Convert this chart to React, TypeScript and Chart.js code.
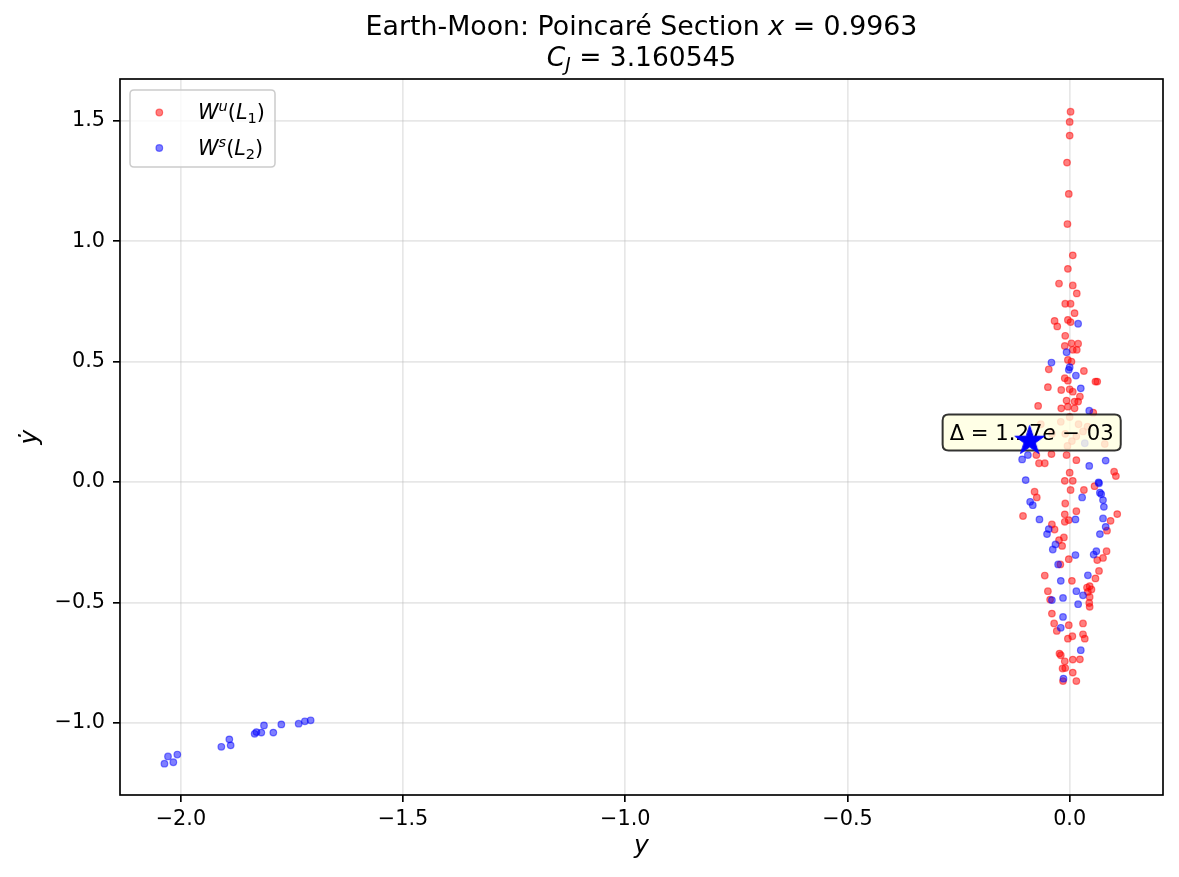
import React, { useEffect, useRef } from "react";
import { Chart, registerables } from "chart.js";

Chart.register(...registerables);

// ---------- data ----------
const X_TICKS = [-2.0, -1.5, -1.0, -0.5, 0.0];
const Y_TICKS = [-1.0, -0.5, 0.0, 0.5, 1.0, 1.5];
const X_MIN = -2.137;
const X_MAX = 0.210;
const Y_MIN = -1.299;
const Y_MAX = 1.673;

// W^u(L1) crossings (y, ydot)
const UNSTABLE_L1: [number, number][] = [
  [0.002, 1.537], [0.0, 1.495], [0.0, 1.438], [-0.006, 1.326], [-0.002, 1.196],
  [-0.005, 1.071], [0.007, 0.941], [-0.004, 0.885], [-0.024, 0.824], [0.007, 0.816],
  [0.016, 0.783], [-0.010, 0.740], [0.002, 0.740], [0.011, 0.701], [-0.034, 0.669],
  [-0.028, 0.646], [-0.004, 0.673], [0.002, 0.664], [-0.010, 0.607], [-0.011, 0.565],
  [0.004, 0.576], [0.019, 0.574], [0.007, 0.549], [0.016, 0.549], [-0.004, 0.507],
  [0.004, 0.500], [-0.047, 0.468], [0.032, 0.461], [-0.011, 0.431], [-0.004, 0.421],
  [0.062, 0.417], [0.058, 0.417], [-0.049, 0.394], [-0.019, 0.382], [0.0, 0.385],
  [0.007, 0.375], [0.023, 0.355], [-0.007, 0.338], [0.011, 0.334], [0.019, 0.334],
  [-0.071, 0.316], [-0.019, 0.306], [-0.004, 0.313], [0.011, 0.306], [0.053, 0.288],
  [-0.065, 0.240], [-0.020, 0.250], [0.0, 0.270], [0.020, 0.240], [0.040, 0.230],
  [-0.010, 0.200], [0.015, 0.190], [0.030, 0.210], [-0.040, 0.200], [0.079, 0.158],
  [0.005, 0.170], [-0.005, 0.150], [-0.075, 0.112], [-0.069, 0.078], [-0.056, 0.078],
  [-0.041, 0.116], [0.015, 0.091], [-0.007, 0.112], [0.100, 0.043], [0.104, 0.025],
  [0.0, 0.039], [-0.011, 0.005], [0.007, 0.005], [0.056, -0.017], [-0.079, -0.040],
  [-0.074, -0.064], [0.002, -0.033], [0.032, -0.033], [-0.010, -0.089], [0.015, -0.121],
  [-0.105, -0.141], [0.107, -0.133], [0.092, -0.161], [-0.011, -0.134], [-0.011, -0.165],
  [-0.002, -0.158], [-0.040, -0.176], [-0.034, -0.197], [0.084, -0.202], [-0.024, -0.241],
  [-0.013, -0.230], [-0.017, -0.265], [0.083, -0.287], [0.062, -0.324], [0.075, -0.315],
  [-0.002, -0.320], [-0.021, -0.342], [0.066, -0.369], [0.058, -0.400], [-0.056, -0.388],
  [0.005, -0.410], [0.039, -0.438], [0.045, -0.432], [0.049, -0.446], [0.041, -0.456],
  [-0.049, -0.453], [0.045, -0.477], [0.044, -0.502], [0.045, -0.518], [-0.044, -0.488],
  [-0.040, -0.546], [-0.035, -0.587], [-0.029, -0.618], [-0.002, -0.594], [0.030, -0.587],
  [0.030, -0.632], [0.034, -0.650], [0.006, -0.640], [-0.004, -0.650], [-0.023, -0.712],
  [-0.020, -0.719], [-0.011, -0.744], [0.007, -0.737], [0.023, -0.736], [-0.016, -0.774],
  [-0.010, -0.772], [0.007, -0.791], [-0.015, -0.826], [0.015, -0.826],
];

// W^s(L2) crossings (y, ydot)
const STABLE_L2: [number, number][] = [
  [0.019, 0.657], [-0.007, 0.539], [-0.041, 0.496], [0.0, 0.477], [-0.002, 0.466],
  [0.014, 0.442], [0.025, 0.389], [0.044, 0.296], [0.034, 0.161], [-0.094, 0.112],
  [-0.107, 0.094], [0.044, 0.067], [0.081, 0.089], [-0.099, 0.008], [0.065, -0.001],
  [0.066, -0.005], [0.068, -0.044], [0.071, -0.050], [0.028, -0.064], [-0.089, -0.082],
  [-0.083, -0.096], [0.075, -0.075], [0.077, -0.103], [0.013, -0.155], [-0.068, -0.155],
  [0.075, -0.151], [-0.047, -0.195], [-0.051, -0.216], [0.081, -0.186], [0.068, -0.216],
  [-0.032, -0.259], [-0.038, -0.280], [0.054, -0.301], [0.060, -0.287], [0.013, -0.303],
  [-0.026, -0.342], [0.041, -0.387], [-0.020, -0.410], [0.015, -0.453], [0.030, -0.470],
  [-0.040, -0.490], [-0.015, -0.481], [0.019, -0.507], [-0.015, -0.560], [-0.020, -0.605],
  [0.025, -0.698], [-0.014, -0.816],
  [-2.037, -1.169], [-2.029, -1.139], [-2.017, -1.163], [-2.008, -1.131], [-1.909, -1.099],
  [-1.891, -1.068], [-1.888, -1.093], [-1.834, -1.045], [-1.830, -1.038], [-1.819, -1.040],
  [-1.813, -1.010], [-1.792, -1.040], [-1.774, -1.006], [-1.735, -1.003], [-1.721, -0.993],
  [-1.708, -0.989],
];

const CLOSEST: [number, number] = [-0.090, 0.177];
const DELTA_TEXT = "1.27";
const DELTA_EXP = "03";

const TITLE_MAIN = "Earth-Moon: Poincaré Section ";
const TITLE_X = "0.9963";
const TITLE_CJ = "3.160545";

// ---------- drawing helpers ----------
const FAMILY = '"DejaVu Sans", "Liberation Sans", sans-serif';
type Seg = { t: string; i?: boolean; s?: number; dy?: number };

function fontOf(size: number, italic?: boolean) {
  return `${italic ? "italic " : ""}${size}px ${FAMILY}`;
}

function richWidth(ctx: CanvasRenderingContext2D, segs: Seg[], size: number) {
  let w = 0;
  for (const sg of segs) {
    ctx.font = fontOf(size * (sg.s ?? 1), sg.i);
    w += ctx.measureText(sg.t).width;
  }
  return w;
}

function drawRich(
  ctx: CanvasRenderingContext2D,
  segs: Seg[],
  x: number,
  y: number,
  size: number,
  align: "left" | "center"
) {
  const w = richWidth(ctx, segs, size);
  let cx = align === "center" ? x - w / 2 : x;
  ctx.textAlign = "left";
  ctx.textBaseline = "alphabetic";
  for (const sg of segs) {
    ctx.font = fontOf(size * (sg.s ?? 1), sg.i);
    ctx.fillText(sg.t, cx, y + (sg.dy ?? 0) * size);
    cx += ctx.measureText(sg.t).width;
  }
  return w;
}

function roundRect(ctx: CanvasRenderingContext2D, x: number, y: number, w: number, h: number, r: number) {
  ctx.beginPath();
  ctx.moveTo(x + r, y);
  ctx.lineTo(x + w - r, y);
  ctx.quadraticCurveTo(x + w, y, x + w, y + r);
  ctx.lineTo(x + w, y + h - r);
  ctx.quadraticCurveTo(x + w, y + h, x + w - r, y + h);
  ctx.lineTo(x + r, y + h);
  ctx.quadraticCurveTo(x, y + h, x, y + h - r);
  ctx.lineTo(x, y + r);
  ctx.quadraticCurveTo(x, y, x + r, y);
  ctx.closePath();
}

function makeStar(R: number): HTMLCanvasElement {
  const c = document.createElement("canvas");
  const size = Math.ceil(R * 2 + 4);
  c.width = size;
  c.height = size;
  const g = c.getContext("2d")!;
  const cx = size / 2;
  const cy = size / 2 + R * 0.1;
  const r = R * 0.382;
  g.beginPath();
  for (let k = 0; k < 10; k++) {
    const ang = -Math.PI / 2 + (k * Math.PI) / 5;
    const rad = k % 2 === 0 ? R : r;
    const px = cx + rad * Math.cos(ang);
    const py = cy + rad * Math.sin(ang);
    if (k === 0) g.moveTo(px, py);
    else g.lineTo(px, py);
  }
  g.closePath();
  g.fillStyle = "#0000ff";
  g.fill();
  g.lineWidth = 1;
  g.strokeStyle = "#0000ff";
  g.stroke();
  return c;
}

const fmtTick = (v: number) => {
  const s = Number(v).toFixed(1);
  return s.replace("-", "\u2212");
};

const MARK_R = 3.3;

const overlay = {
  id: "mplOverlay",
  afterDatasetDraw(chart: any, args: any) {
    if (args.index !== 1) return;
    const ctx: CanvasRenderingContext2D = chart.ctx;
    const sx = chart.scales.x.getPixelForValue(CLOSEST[0]);
    const sy = chart.scales.y.getPixelForValue(CLOSEST[1]);
    const size = 21.2;
    const segs: Seg[] = [
      { t: "\u0394 = " + DELTA_TEXT },
      { t: "e", i: true },
      { t: " \u2212 " + DELTA_EXP },
    ];
    const w = richWidth(ctx, segs, size);
    const tx = sx + 2;
    const ty = sy + 1;
    const bx = tx - w / 2 - 7;
    const bw = w + 14;
    const by = ty - 26;
    const bh = 36;
    ctx.save();
    roundRect(ctx, bx, by, bw, bh, 6);
    ctx.fillStyle = "rgba(255,255,224,0.8)";
    ctx.fill();
    ctx.lineWidth = 2;
    ctx.strokeStyle = "rgba(0,0,0,0.8)";
    ctx.stroke();
    ctx.fillStyle = "#000";
    drawRich(ctx, segs, tx, ty, size, "center");
    ctx.restore();
  },
  afterDraw(chart: any) {
    const ctx: CanvasRenderingContext2D = chart.ctx;
    const a = chart.chartArea;
    ctx.save();
    // frame
    ctx.strokeStyle = "#000";
    ctx.lineWidth = 1.67;
    ctx.strokeRect(a.left, a.top, a.right - a.left, a.bottom - a.top);

    // title
    ctx.fillStyle = "#000";
    const cx = (a.left + a.right) / 2;
    drawRich(
      ctx,
      [{ t: TITLE_MAIN }, { t: "x", i: true }, { t: " = " + TITLE_X }],
      cx,
      35,
      26.8,
      "center"
    );
    drawRich(
      ctx,
      [{ t: "C", i: true }, { t: "J", i: true, s: 0.7, dy: 0.2 }, { t: " = " + TITLE_CJ }],
      cx,
      66,
      26.5,
      "center"
    );

    // axis labels
    ctx.font = fontOf(25, true);
    ctx.textAlign = "center";
    ctx.textBaseline = "alphabetic";
    ctx.fillText("y", cx, 853);
    ctx.save();
    ctx.translate(37, (a.top + a.bottom) / 2);
    ctx.rotate(-Math.PI / 2);
    ctx.fillText("\u1E8F", 0, 0);
    ctx.restore();

    // legend
    const lx = 130, ly = 90, lw = 145, lh = 77;
    roundRect(ctx, lx, ly, lw, lh, 4);
    ctx.fillStyle = "rgba(255,255,255,0.8)";
    ctx.fill();
    ctx.strokeStyle = "#cccccc";
    ctx.lineWidth = 1.5;
    ctx.stroke();
    const items: { c: string; segs: Seg[]; y: number }[] = [
      {
        c: "rgba(255,0,0,0.5)",
        y: 112.5,
        segs: [
          { t: "W", i: true },
          { t: "u", i: true, s: 0.7, dy: -0.38 },
          { t: "(" },
          { t: "L", i: true },
          { t: "1", s: 0.7, dy: 0.2 },
          { t: ")" },
        ],
      },
      {
        c: "rgba(0,0,255,0.5)",
        y: 148,
        segs: [
          { t: "W", i: true },
          { t: "s", i: true, s: 0.7, dy: -0.38 },
          { t: "(" },
          { t: "L", i: true },
          { t: "2", s: 0.7, dy: 0.2 },
          { t: ")" },
        ],
      },
    ];
    for (const it of items) {
      ctx.beginPath();
      ctx.arc(159.3, it.y, MARK_R, 0, Math.PI * 2);
      ctx.fillStyle = it.c;
      ctx.fill();
      ctx.strokeStyle = it.c;
      ctx.lineWidth = 1.2;
      ctx.stroke();
      ctx.fillStyle = "#000";
      drawRich(ctx, it.segs, 198, it.y + 6.5, 20.8, "left");
    }
    ctx.restore();
  },
};

export default function App() {
  const ref = useRef<HTMLCanvasElement | null>(null);
  useEffect(() => {
    if (!ref.current) return;
    const star = makeStar(15.5);
    const gridCfg = {
      color: "rgba(176,176,176,0.3)",
      lineWidth: 1.67,
      tickColor: "#000",
      tickLength: 7,
      tickWidth: 1.67,
      drawTicks: true,
    };
    const chart = new Chart(ref.current, {
      type: "scatter",
      data: {
        datasets: [
          {
            label: "W^u(L1)",
            data: UNSTABLE_L1.map(([x, y]) => ({ x, y })),
            backgroundColor: "rgba(255,0,0,0.5)",
            borderColor: "rgba(255,0,0,0.5)",
            borderWidth: 1.2,
            pointRadius: MARK_R,
            order: 3,
          },
          {
            label: "W^s(L2)",
            data: STABLE_L2.map(([x, y]) => ({ x, y })),
            backgroundColor: "rgba(0,0,255,0.5)",
            borderColor: "rgba(0,0,255,0.5)",
            borderWidth: 1.2,
            pointRadius: MARK_R,
            order: 2,
          },
          {
            label: "closest",
            data: [{ x: CLOSEST[0], y: CLOSEST[1] }],
            pointStyle: star as any,
            pointRadius: 15,
            order: 1,
          },
        ],
      },
      options: {
        responsive: false,
        animation: false,
        devicePixelRatio: 1,
        events: [],
        layout: { padding: { top: 79, right: 15.5, left: 0, bottom: 0 } },
        plugins: {
          legend: { display: false },
          title: { display: false },
          tooltip: { enabled: false },
        },
        scales: {
          x: {
            type: "linear",
            min: X_MIN,
            max: X_MAX,
            afterBuildTicks: (s: any) => {
              s.ticks = X_TICKS.map((v) => ({ value: v }));
            },
            afterFit: (s: any) => {
              s.height = 82;
            },
            grid: gridCfg,
            border: { display: false },
            ticks: {
              color: "#000",
              font: { family: FAMILY, size: 20.8 },
              padding: 5,
              maxRotation: 0,
              autoSkip: false,
              callback: (v: any) => fmtTick(v),
            },
          },
          y: {
            type: "linear",
            min: Y_MIN,
            max: Y_MAX,
            afterBuildTicks: (s: any) => {
              s.ticks = Y_TICKS.map((v) => ({ value: v }));
            },
            afterFit: (s: any) => {
              s.width = 120;
            },
            grid: gridCfg,
            border: { display: false },
            ticks: {
              color: "#000",
              font: { family: FAMILY, size: 20.8 },
              padding: 8,
              autoSkip: false,
              callback: (v: any) => fmtTick(v),
            },
          },
        },
      },
      plugins: [overlay],
    });
    return () => chart.destroy();
  }, []);
  return (
    <div style={{ position: "fixed", left: 0, top: 0, width: 1179, height: 877, background: "#fff" }}>
      <canvas ref={ref} width={1179} height={877} style={{ width: 1179, height: 877, display: "block" }} />
    </div>
  );
}
